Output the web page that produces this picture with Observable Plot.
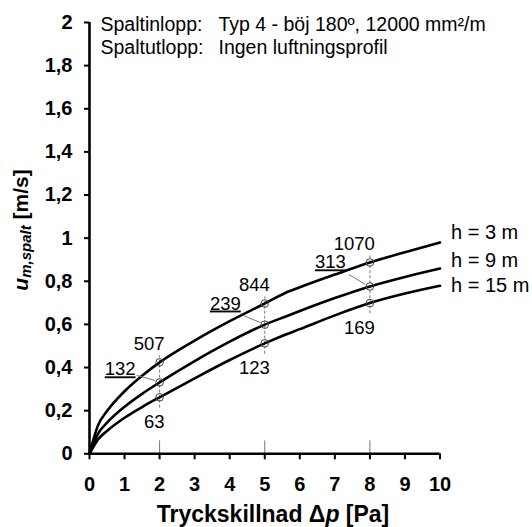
<!DOCTYPE html>
<html><head><meta charset="utf-8">
<script src="https://cdn.jsdelivr.net/npm/d3@7"></script>
<script src="https://cdn.jsdelivr.net/npm/@observablehq/plot@0.6"></script>
<style>
body{margin:0;background:#fff;}
.ul text{ text-decoration: underline; }
</style></head><body><div id="chart"></div>
<script>
// ---- data ----
const pressure = [0, 0.25, 0.5, 1, 1.5, 2, 3, 4, 5, 5.6, 6, 7, 8, 9, 10];
const u_h3  = [0, 0.135, 0.198, 0.29, 0.362, 0.424, 0.525, 0.615, 0.697, 0.747, 0.772, 0.831, 0.887, 0.935, 0.98];
const u_h9  = [0, 0.095, 0.144, 0.218, 0.278, 0.331, 0.43, 0.52, 0.599, 0.637, 0.662, 0.722, 0.776, 0.82, 0.859];
const u_h15 = [0, 0.068, 0.106, 0.167, 0.217, 0.262, 0.35, 0.435, 0.512, 0.553, 0.578, 0.642, 0.699, 0.743, 0.779];
const seriesNames = ["h = 3 m", "h = 9 m", "h = 15 m"];
const markerP = [2, 5, 8];
const labelTop = ["507", "844", "1070"];
const labelMid = ["132", "239", "313"];
const labelBot = ["63", "123", "169"];
const xTicks = [0,1,2,3,4,5,6,7,8,9,10];
const yTicks = [0,0.2,0.4,0.6,0.8,1,1.2,1.4,1.6,1.8,2];
const infoKeys = ["Spaltinlopp:", "Spaltutlopp:"];
const infoVals = ["Typ 4 - böj 180º, 12000 mm²/m", "Ingen luftningsprofil"];

// ---- layout / style ----
const W = 532, H = 527, ML = 89, MR = 92.5, MT = 22, MB = 73.7;
const kx = (W - ML - MR) / 10, ky = (H - MT - MB) / 2;
const FONT = "Arial, 'Liberation Sans', sans-serif";
const endDy = [-10, -8, 0];
const midDy = [-13, -21, -24];
const leadStart = [[-23, -7], [-21, -9], [-21, -12]];

const allU = [u_h3, u_h9, u_h15];
const lines = [];
allU.forEach((arr, s) => pressure.forEach((p, i) => lines.push({p, u: arr[i], s: seriesNames[s]})));
const uAt = (arr, p) => arr[pressure.indexOf(p)];
const markers = [];
allU.forEach(arr => markerP.forEach(p => markers.push({p, u: uAt(arr, p)})));
const topLbl = markerP.map((p, i) => ({p, u: uAt(u_h3, p), t: labelTop[i]}));
const botLbl = markerP.map((p, i) => ({p, u: uAt(u_h15, p), t: labelBot[i]}));
const midLbl = markerP.map((p, i) => ({p, u: uAt(u_h9, p), t: labelMid[i]}));
const leaders = midLbl.map((d, i) => ({
  x1: d.p + leadStart[i][0] / kx, y1: d.u - leadStart[i][1] / ky,
  x2: d.p - 4.5 / kx, y2: d.u + 2 / ky
}));
const dashes = markerP.map(p => ({p, lo: uAt(u_h15, p) - 0.05, hi: uAt(u_h3, p) + 0.03}));
const fmt = d => String(+d.toFixed(1)).replace(".", ",");

const marks = [
  Plot.ruleX(markerP, {x: d => d, y1: 0, y2: 0.06, stroke: "#777", strokeWidth: 1}),
  Plot.ruleX(dashes, {x: "p", y1: "lo", y2: "hi", stroke: "#777", strokeWidth: 1, strokeDasharray: "3,2"}),
  Plot.line(lines, {x: "p", y: "u", z: "s", stroke: "black", strokeWidth: 2.6, curve: "monotone-x"}),
  Plot.dot(markers, {x: "p", y: "u", r: 3.8, stroke: "#444", fill: "none", strokeWidth: 1}),
  Plot.link(leaders, {x1: "x1", y1: "y1", x2: "x2", y2: "y2", stroke: "#777", strokeWidth: 1}),
  Plot.text(topLbl, {x: "p", y: "u", text: "t", textAnchor: "end", dx: 5, dy: -18, fontSize: 18.5}),
  Plot.text(botLbl, {x: "p", y: "u", text: "t", textAnchor: "end", dx: 5, dy: 25, fontSize: 18.5}),
  ...midLbl.map((d, i) => Plot.text([d], {x: "p", y: "u", text: "t", textAnchor: "end", dx: -24, dy: midDy[i], fontSize: 18.5, className: "ul"})),
  ...seriesNames.map((n, i) => Plot.text([n], {x: 10, y: allU[i][allU[i].length - 1], text: d => d, textAnchor: "start", dx: 11, dy: endDy[i], fontSize: 20})),
  Plot.text([infoKeys[0]], {frameAnchor: "top-left", text: d => d, dx: 11, dy: 2, fontSize: 19.5, textAnchor: "start", lineAnchor: "middle"}),
  Plot.text([infoKeys[1]], {frameAnchor: "top-left", text: d => d, dx: 11, dy: 25.5, fontSize: 19.5, textAnchor: "start", lineAnchor: "middle"}),
  Plot.text([infoVals[0]], {frameAnchor: "top-left", text: d => d, dx: 129, dy: 2, fontSize: 19.5, textAnchor: "start", lineAnchor: "middle"}),
  Plot.text([infoVals[1]], {frameAnchor: "top-left", text: d => d, dx: 129, dy: 25.5, fontSize: 19.5, textAnchor: "start", lineAnchor: "middle"}),
  Plot.axisX({ticks: xTicks, tickSize: 6, tickPadding: 17, strokeWidth: 2, fontWeight: "bold", fontSize: 20, label: null, tickFormat: d => String(d)}),
  Plot.axisY({ticks: yTicks, tickSize: 5, tickPadding: 12, strokeWidth: 2, fontWeight: "bold", fontSize: 20, label: null, tickFormat: fmt}),
  Plot.ruleX([0], {y1: 0, y2: 2, stroke: "black", strokeWidth: 2.6}),
  Plot.ruleY([0], {x1: 0, x2: 10, stroke: "black", strokeWidth: 2.6})
];

const chart = Plot.plot({
  width: W, height: H,
  marginLeft: ML, marginRight: MR, marginTop: MT, marginBottom: MB,
  x: {domain: [0, 10]},
  y: {domain: [0, 2]},
  style: {fontFamily: FONT, fontSize: "17px", color: "black", background: "white", overflow: "visible"},
  marks
});
document.getElementById("chart").appendChild(chart);

const svg = d3.select(chart);
// y-axis title
const yt = svg.append("text")
  .attr("transform", "translate(22,230) rotate(-90)")
  .attr("text-anchor", "middle").attr("dominant-baseline", "middle")
  .style("font-family", FONT).style("font-weight", "bold").style("font-size", "21px").attr("fill", "black");
yt.append("tspan").style("font-style", "italic").text("u");
yt.append("tspan").style("font-style", "italic").style("font-size", "15px").attr("dy", 5).text("m,spalt");
yt.append("tspan").attr("dy", -5).text(" [m/s]");
// x-axis title
const xt = svg.append("text")
  .attr("x", 273).attr("y", 516)
  .attr("text-anchor", "middle").attr("dominant-baseline", "middle")
  .style("font-family", FONT).style("font-weight", "bold").style("font-size", "23px").attr("fill", "black");
xt.append("tspan").text("Tryckskillnad Δ");
xt.append("tspan").style("font-style", "italic").text("p");
xt.append("tspan").text(" [Pa]");
</script></body></html>
